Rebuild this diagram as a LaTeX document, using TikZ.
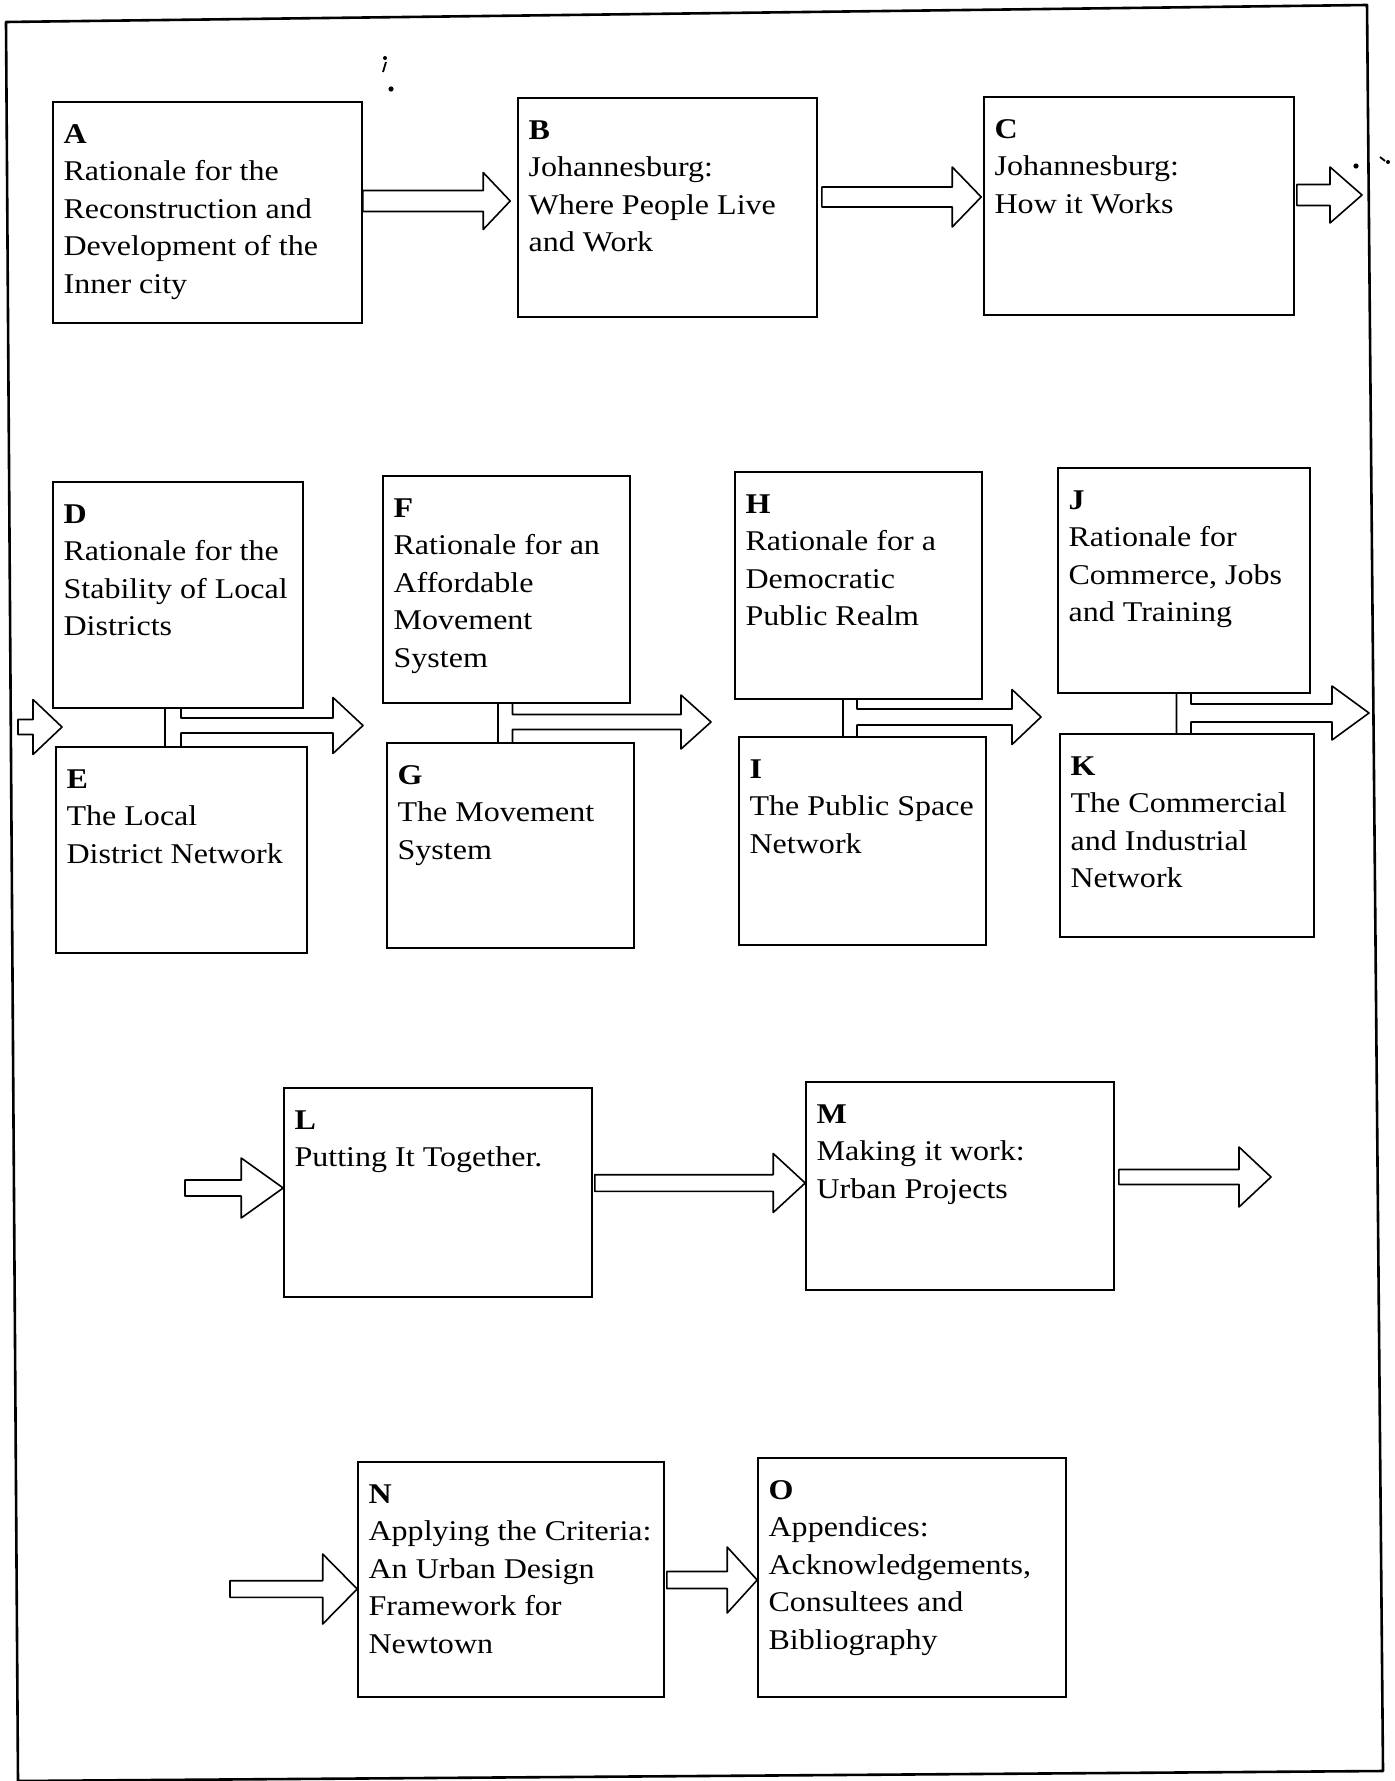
\documentclass[tikz,border=0pt]{standalone}
\usepackage{fontspec}
\setmainfont{Liberation Serif}[FakeStretch=1.12]
\usetikzlibrary{fit,calc}
\newcommand{\boxfont}{\fontsize{14.3}{18.75}\selectfont}
\tikzset{
  box/.style={draw, line width=0.8pt, inner sep=0pt},
  lbl/.style={anchor=base west, inner sep=0pt, font=\boxfont},
  arr/.style={draw, line width=0.8pt, line join=round},
  frameline/.style={draw, line width=1.3pt, line join=round},
}
% #1 start point, #2 tip point, #3 y (px), #4 shaft half (px), #5 head half (px), #6 head length (px)
\newcommand{\harrow}[6]{%
  \draw[arr] let \p1=(#1), \p2=(#2) in
    ({\x1},{-0.5pt*(#3-#4)}) -- ({\x2-0.5pt*#6},{-0.5pt*(#3-#4)}) -- ({\x2-0.5pt*#6},{-0.5pt*(#3-#5)})
    -- ({\x2},{-0.5pt*#3}) -- ({\x2-0.5pt*#6},{-0.5pt*(#3+#5)}) -- ({\x2-0.5pt*#6},{-0.5pt*(#3+#4)})
    -- ({\x1},{-0.5pt*(#3+#4)}) -- cycle;}
% #1 upper node, #2 lower node, #3 stem left x, #4 stem width, #5 y, #6 shaft half, #7 head half, #8 head length, #9 tip x
\newcommand{\tconn}[9]{%
  \draw[arr] let \p1=(#1.south), \p2=(#2.north) in
    ({0.5pt*#3},\y1) -- ({0.5pt*#3},\y2)
    ({0.5pt*(#3+#4)},\y1) -- ({0.5pt*(#3+#4)},{-0.5pt*(#5-#6)}) -- ({0.5pt*(#9-#8)},{-0.5pt*(#5-#6)})
    -- ({0.5pt*(#9-#8)},{-0.5pt*(#5-#7)}) -- ({0.5pt*#9},{-0.5pt*#5}) -- ({0.5pt*(#9-#8)},{-0.5pt*(#5+#7)})
    -- ({0.5pt*(#9-#8)},{-0.5pt*(#5+#6)}) -- ({0.5pt*(#3+#4)},{-0.5pt*(#5+#6)}) -- ({0.5pt*(#3+#4)},\y2);}
\newcommand{\boxlabel}[2]{%
  \node[lbl] (#1t) at ([shift={(5.5pt,-21pt)}]#1.north west) {\begin{tabular}[t]{@{}l@{}}#2\end{tabular}};}
\begin{document}
\begin{tikzpicture}[x=0.5pt,y=-0.5pt]
\useasboundingbox (0,0) rectangle (1395,1781);
\fill[white] (0,0) rectangle (1395,1781);
% outer frame
\draw[frameline] (6,22) -- (1367,5) -- (1383,1771) -- (18,1781) -- cycle;
% scan marks
\draw[line width=0.9pt] (386,62) -- (383,72);
\fill (385,58) circle (1pt);
\fill (391,89) circle (1.3pt);
\fill (1356,166) circle (1.3pt);
\draw[line width=0.9pt] (1380,157) -- (1385,161);
\fill (1388,162) circle (1pt);
% boxes
\node[box, fit={(53,102) (362,323)}] (A) {};
\node[box, fit={(518,98) (817,317)}] (B) {};
\node[box, fit={(984,97) (1294,315)}] (C) {};
\node[box, fit={(53,482) (303,708)}] (D) {};
\node[box, fit={(56,747) (307,953)}] (E) {};
\node[box, fit={(383,476) (630,703)}] (F) {};
\node[box, fit={(387,743) (634,948)}] (G) {};
\node[box, fit={(735,472) (982,699)}] (H) {};
\node[box, fit={(739,737) (986,945)}] (I) {};
\node[box, fit={(1058,468) (1310,693)}] (J) {};
\node[box, fit={(1060,734) (1314,937)}] (K) {};
\node[box, fit={(284,1088) (592,1297)}] (L) {};
\node[box, fit={(806,1082) (1114,1290)}] (M) {};
\node[box, fit={(358,1462) (664,1697)}] (N) {};
\node[box, fit={(758,1458) (1066,1697)}] (O) {};
% labels
\boxlabel{A}{\textbf{A}\\Rationale for the\\Reconstruction and\\Development of the\\Inner city}
\boxlabel{B}{\textbf{B}\\Johannesburg:\\Where People Live\\and Work}
\boxlabel{C}{\textbf{C}\\Johannesburg:\\How it Works}
\boxlabel{D}{\textbf{D}\\Rationale for the\\Stability of Local\\Districts}
\boxlabel{E}{\textbf{E}\\The Local\\District Network}
\boxlabel{F}{\textbf{F}\\Rationale for an\\Affordable\\Movement\\System}
\boxlabel{G}{\textbf{G}\\The Movement\\System}
\boxlabel{H}{\textbf{H}\\Rationale for a\\Democratic\\Public Realm}
\boxlabel{I}{\textbf{I}\\The Public Space\\Network}
\boxlabel{J}{\textbf{J}\\Rationale for\\Commerce, Jobs\\and Training}
\boxlabel{K}{\textbf{K}\\The Commercial\\and Industrial\\Network}
\boxlabel{L}{\textbf{L}\\Putting It Together.}
\boxlabel{M}{\textbf{M}\\Making it work:\\Urban Projects}
\boxlabel{N}{\textbf{N}\\Applying the Criteria:\\An Urban Design\\Framework for\\Newtown}
\boxlabel{O}{\textbf{O}\\Appendices:\\Acknowledgements,\\Consultees and\\Bibliography}
% free ends
\coordinate (Cout) at (1362,195);
\coordinate (inDEs) at (18,727);
\coordinate (inDEt) at (62,727);
\coordinate (Lin) at (185,1188);
\coordinate (Mout) at (1271,1177);
\coordinate (Nin) at (230,1589);
% arrows
\harrow{A.east}{[xshift=-3.5pt]B.west}{201}{10.5}{28.5}{27}
\harrow{[xshift=2pt]B.east}{[xshift=-1pt]C.west}{197}{10}{30}{29}
\harrow{[xshift=1pt]C.east}{Cout}{195}{10.5}{28}{32}
\harrow{inDEs}{inDEt}{727}{7.5}{27.5}{29}
\tconn{D}{E}{165}{16}{725.5}{7.5}{28}{30}{363}
\tconn{F}{G}{498}{14.5}{722}{7.5}{27}{30}{711}
\tconn{H}{I}{843}{14}{717}{8}{27.5}{29}{1041}
\tconn{J}{K}{1176.5}{14.5}{713}{9}{27}{37}{1369}
\harrow{Lin}{L.west}{1188}{8}{30}{42}
\harrow{[xshift=1pt]L.east}{M.west}{1183}{8.3}{29.5}{32}
\harrow{[xshift=2pt]M.east}{Mout}{1177}{7.5}{30}{32}
\harrow{Nin}{N.west}{1589}{8.3}{35}{34.5}
\harrow{[xshift=1pt]N.east}{O.west}{1580}{8.5}{33}{30}
\end{tikzpicture}
\end{document}
